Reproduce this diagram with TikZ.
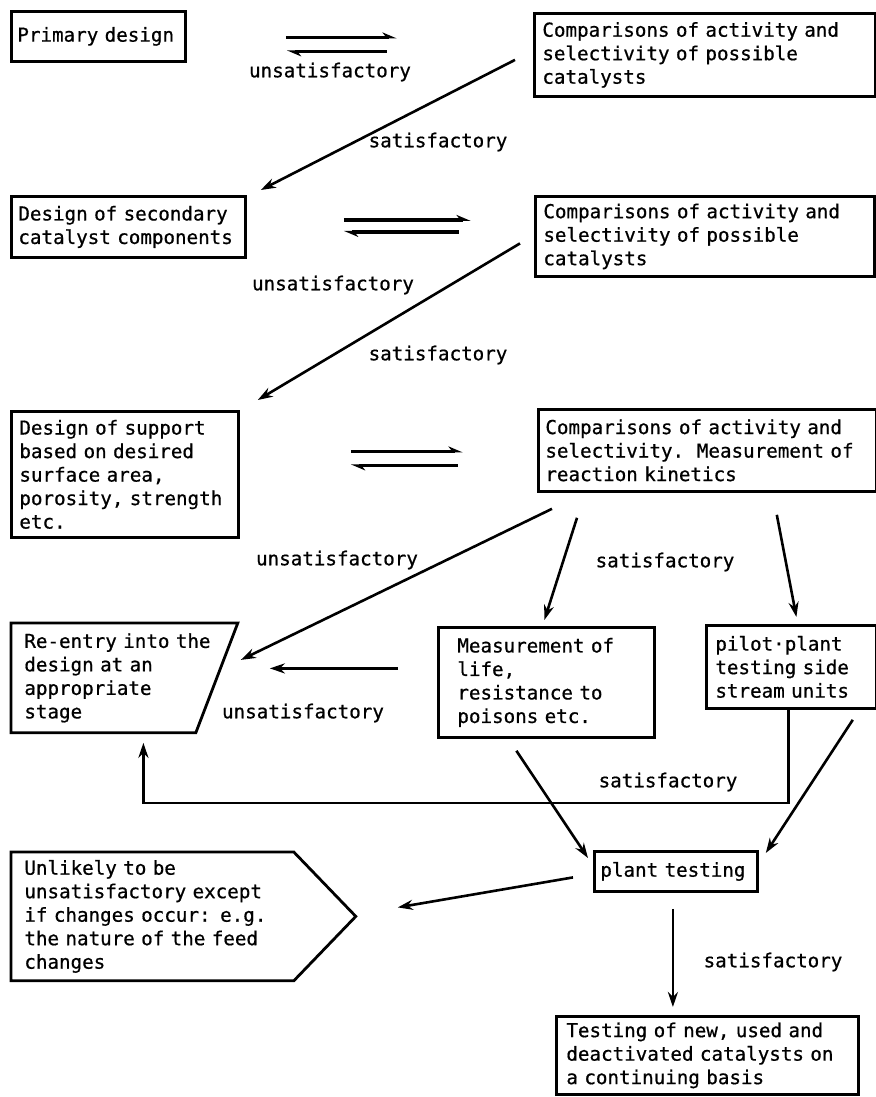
\documentclass[tikz,border=0pt]{standalone}
\usepackage{fontspec}
\newfontfamily\flowfont[FakeBold=0.7]{DejaVu Sans Mono}
\usetikzlibrary{arrows.meta,calc}

\tikzset{every picture/.style={line width=1.3pt}}
\tikzset{
  procbox/.style={draw, line width=1.4pt, anchor=north west, align=left, inner ysep=2pt,
    font=\flowfont\fontsize{9.6}{11.75}\selectfont},
  plainbox/.style={procbox, draw=none},
  lbl/.style={inner sep=0.75pt, font=\flowfont\fontsize{9.6}{11.75}\selectfont},
  flow/.style={-{Stealth[length=7.5pt,width=5pt]}},
  half/.style={line width=1.6pt, -{Stealth[left,length=6pt,width=5pt]}}
}

\begin{document}
\begin{tikzpicture}[x=0.5pt,y=0.5pt,yscale=-1,xscale=1]
\useasboundingbox (0,0) rectangle (876,1097);

%Flowchart: Process
\node (prim) [procbox, text width=81pt, inner xsep=3pt, minimum height=25pt] at (10,10) {Primary design};
%Flowchart: Process
\node (comp1) [procbox, text width=162.5pt, inner xsep=4pt, minimum height=41.5pt] at (533,12) {Comparisons of activity and\\selectivity of possible\\catalysts};
%Flowchart: Process
\node (sec) [procbox, text width=110pt, inner xsep=3.5pt, minimum height=30.5pt] at (10,195) {Design of secondary\\catalyst components};
%Flowchart: Process
\node (comp2) [procbox, text width=161.5pt, inner xsep=4pt, minimum height=40pt] at (534,195) {Comparisons of activity and\\selectivity of possible\\catalysts};
%Flowchart: Process
\node (supp) [procbox, text width=105.5pt, inner xsep=4pt, minimum height=63pt] at (10,410) {Design of support\\based on desired\\surface area,\\porosity, strength\\etc.};
%Flowchart: Process
\node (comp3) [procbox, text width=162pt, inner xsep=3.5pt, minimum height=41pt] at (537,408) {Comparisons of activity and\\selectivity.\ \ Measurement of\\reaction kinetics};
%Flowchart: Manual Operation
\node (reentry) [plainbox, text width=100pt, inner xsep=6pt, minimum height=53.5pt] at (11,623) {Re-entry into the\\design at an\\appropriate\\stage};
\draw [line width=1.4pt] (reentry.north west) -- (reentry.north east) -- ($(reentry.south east)+(-42,0)$) -- (reentry.south west) -- cycle ;
%Flowchart: Process
\node (meas) [procbox, text width=89pt, inner xsep=9.5pt, minimum height=55pt] at (437,626) {Measurement of\\life,\\resistance to\\poisons etc.};
%Flowchart: Process
\node (pilot) [procbox, text width=76pt, inner xsep=4.5pt, minimum height=41.5pt] at (705,624) {pilot·plant\\testing side\\stream units};
%Flowchart: Process
\node (plant) [procbox, text width=75.5pt, inner xsep=3pt, minimum height=20pt] at (593,850) {plant testing};
%Flowchart: Off-page
\node (unlik) [plainbox, text width=128pt, inner xsep=6pt, minimum height=63pt] at (11,852) {Unlikely to be\\unsatisfactory except\\if changes occur: e.g.\\the nature of the feed\\changes};
\draw [line width=1.4pt] (unlik.north west) -- (unlik.north east) -- ($(unlik.east)+(62,0)$) -- (unlik.south east) -- (unlik.south west) -- cycle ;
%Flowchart: Process
\node (final) [procbox, text width=141pt, inner xsep=5pt, minimum height=39pt] at (555,1015) {Testing of new, used and\\deactivated catalysts on\\a continuing basis};

%Harpoons
\draw [half] ($(prim.east)+(99,1)$) -- ($(prim.east)+(210,1)$) ;
\draw [half] ($(prim.east)+(200,15)$) -- ($(prim.east)+(100,15)$) ;
\draw [half] ($(sec.east)+(97,-7)$) -- ($(sec.east)+(224,-7)$) ;
\draw [half] ($(sec.east)+(212,5)$) -- ($(sec.east)+(97,5)$) ;
\draw [half] ($(supp.east)+(111,-23)$) -- ($(supp.east)+(223,-23)$) ;
\draw [half] ($(supp.east)+(218,-9)$) -- ($(supp.east)+(111,-9)$) ;

%Straight Lines
\draw [flow] ($(comp1.west)+(-18,5)$) -- ($(sec.north east)+(14,-5)$) ;
\draw [flow] ($(comp2.west)+(-14,7)$) -- ($(supp.north east)+(18,-10)$) ;
\draw [flow] ($(comp3.south west)+(15,16)$) -- ($(reentry.east)+(3,-18)$) ;
\draw [flow] ($(comp3.south west)+(40,25)$) -- ($(meas.north)+(-2,-6)$) ;
\draw [flow] ($(comp3.south east)+(-101,22)$) -- ($(pilot.north)+(5,-7)$) ;
\draw [flow] ($(meas.west)+(-39,-14)$) -- ($(reentry.east)+(32,-9.5)$) ;
\draw [flow] ($(pilot.south)+(-3,0)$) -- ++(0,93) -| ($(reentry.south)+(19,10)$) ;
\draw [flow] ($(meas.south)+(-30,12)$) -- ($(plant.north west)+(-5,8)$) ;
\draw [flow] ($(pilot.south east)+(-25,10)$) -- ($(plant.north east)+(7,3)$) ;
\draw [flow] ($(plant.west)+(-20,6)$) -- ($(unlik.east)+(104,-9)$) ;
\draw [flow] ($(plant.south)+(-3,16)$) -- ($(plant.south |- final.north)+(-3,-8)$) ;

% Text Node
\node (u1) [lbl] at (330,72) {unsatisfactory};
% Text Node
\node (s1) [lbl] at (438,142) {satisfactory};
% Text Node
\node (u2) [lbl] at (333,285) {unsatisfactory};
% Text Node
\node (s2) [lbl] at (438,355) {satisfactory};
% Text Node
\node (u3) [lbl] at (337,560) {unsatisfactory};
% Text Node
\node (s3) [lbl] at (665,562) {satisfactory};
% Text Node
\node (u4) [lbl] at (303,713) {unsatisfactory};
% Text Node
\node (s4) [lbl] at (668,782) {satisfactory};
% Text Node
\node (s5) [lbl] at (773,962) {satisfactory};

\end{tikzpicture}
\end{document}
